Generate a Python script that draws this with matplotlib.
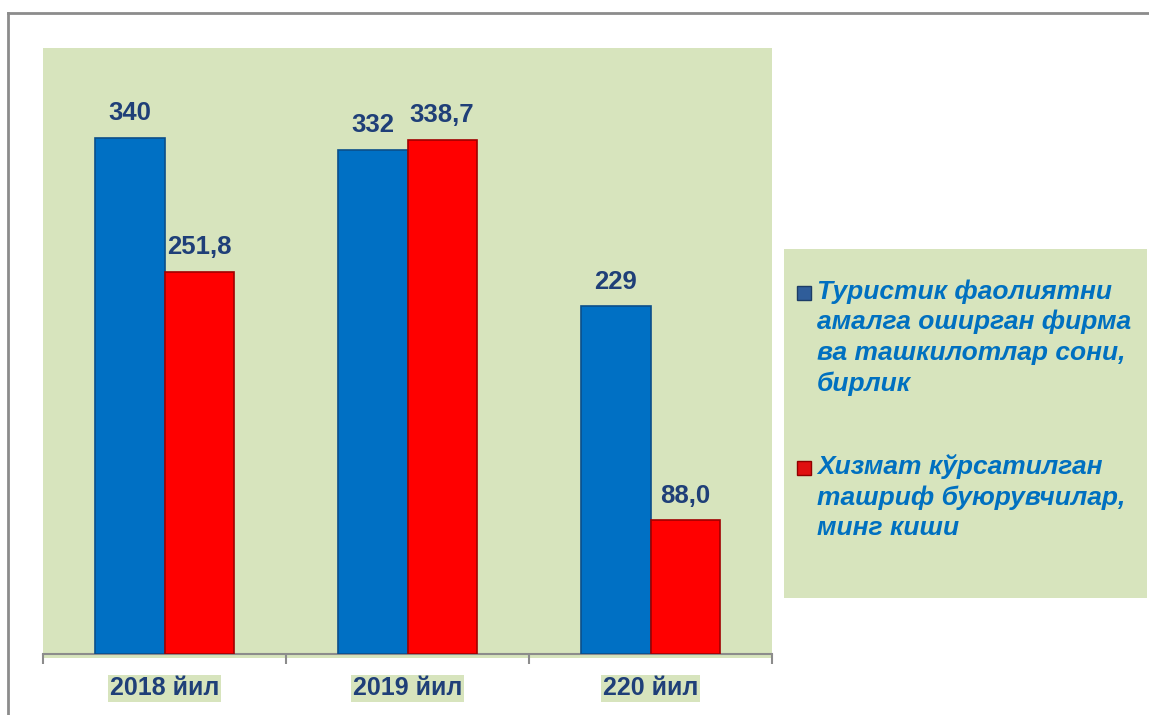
import matplotlib
matplotlib.use("Agg")
import matplotlib.pyplot as plt
from matplotlib.patches import Rectangle
from matplotlib.lines import Line2D
import numpy as np

categories = ["2018 йил", "2019 йил", "220 йил"]
firms = [340, 332, 229]
visitors = [251.8, 338.7, 88.0]
firm_labels = ["340", "332", "229"]
visitor_labels = ["251,8", "338,7", "88,0"]
legend_labels = [
    "Туристик фаолиятни\nамалга оширган фирма\nва ташкилотлар сони,\nбирлик",
    "Хизмат кўрсатилган\nташриф буюрувчилар,\nминг киши",
]

W, H = 1149, 715
fig = plt.figure(figsize=(W / 100, H / 100), dpi=100)
fig.patch.set_facecolor("white")

GREEN = "#D7E4BD"
BLUE = "#0070C4"
RED = "#FF0000"
NAVY = "#1F3F78"
LEGBLUE = "#0070C0"
FONT = ["Liberation Sans", "DejaVu Sans"]

# outer frame (left and top visible)
fig.add_artist(Line2D([8 / W, 8 / W], [0, 1 - 13 / H], transform=fig.transFigure, color="#8c8c8c", lw=2))
fig.add_artist(Line2D([8 / W, 1], [1 - 13 / H, 1 - 13 / H], transform=fig.transFigure, color="#8c8c8c", lw=2))

# plot area background
fig.add_artist(Rectangle((43 / W, 1 - 658 / H), (772 - 43) / W, (658 - 48) / H,
                         transform=fig.transFigure, facecolor=GREEN, edgecolor="none", zorder=0))

ax = fig.add_axes([43 / W, 1 - 654 / H, 729 / W, 606 / H])
ax.set_facecolor("none")
x = np.arange(len(categories))
bw = 0.284
b1 = ax.bar(x - bw / 2, firms, bw, color=BLUE, edgecolor="#0B4F8A", linewidth=1.2, zorder=3)
b2 = ax.bar(x + bw / 2, visitors, bw, color=RED, edgecolor="#A00000", linewidth=1.2, zorder=3)

ax.set_xlim(-0.5, 2.5)
ax.set_ylim(0, 399)
for s in ["top", "right", "left"]:
    ax.spines[s].set_visible(False)
ax.spines["bottom"].set_color("#8c8c8c")
ax.spines["bottom"].set_linewidth(1.5)
ax.set_yticks([])
ax.set_xticks([-0.5, 0.5, 1.5, 2.5])
ax.set_xticklabels([])
ax.tick_params(axis="x", which="major", length=7, width=1.5, color="#8c8c8c", direction="out")
ax.set_xticks(x, minor=True)
ax.set_xticklabels(categories, minor=True)
ax.tick_params(axis="x", which="minor", length=0, pad=16)
for lbl in ax.get_xticklabels(minor=True):
    lbl.set_fontfamily(FONT)
    lbl.set_fontweight("bold")
    lbl.set_fontsize(18)
    lbl.set_color(NAVY)
    lbl.set_bbox(dict(facecolor=GREEN, edgecolor="none", pad=1))

for bars, labels in [(b1, firm_labels), (b2, visitor_labels)]:
    for rect, t in zip(bars, labels):
        ax.annotate(t, (rect.get_x() + rect.get_width() / 2, rect.get_height()),
                    xytext=(0, 9), textcoords="offset points", ha="center", va="bottom",
                    fontsize=18.5, fontweight="bold", color=NAVY, fontfamily=FONT)

# legend box (manual)
fig.add_artist(Rectangle((784 / W, 1 - 598 / H), (1147 - 784) / W, (598 - 249) / H,
                         transform=fig.transFigure, facecolor=GREEN, edgecolor="none", zorder=0))
leg_colors = [("#2F5D9A", "#1c3c66"), ("#E01010", "#900000")]
leg_tops = [279, 454]  # pixel y of top of first text line
for (fc, ec), lab, ytop in zip(leg_colors, legend_labels, leg_tops):
    fig.add_artist(Rectangle((797 / W, 1 - (ytop + 21) / H), 14 / W, 14 / H,
                             transform=fig.transFigure, facecolor=fc, edgecolor=ec, lw=1, zorder=2))
    fig.text(817 / W, 1 - ytop / H, lab, ha="left", va="top", fontsize=19, fontweight="bold",
             fontstyle="italic", color=LEGBLUE, fontfamily=FONT, linespacing=1.33, zorder=2)

fig.savefig("out.png", dpi=100, facecolor="white")
